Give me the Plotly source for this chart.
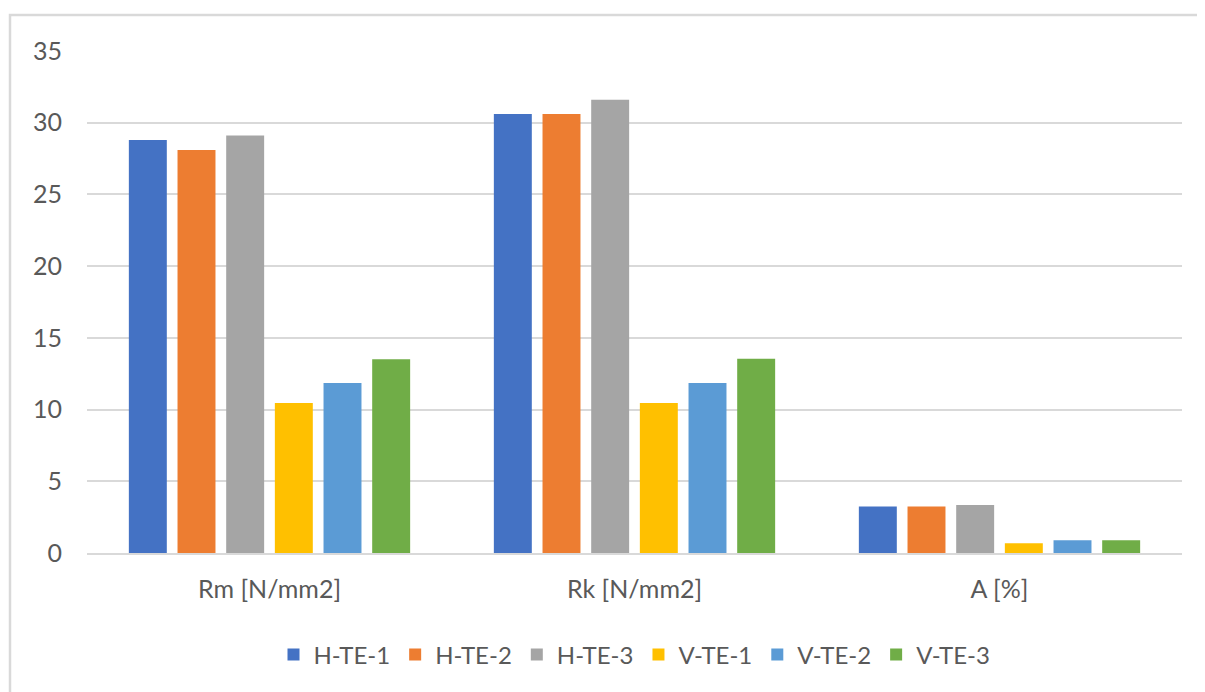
import plotly.graph_objects as go

categories = ["Rm [N/mm2]", "Rk [N/mm2]", "A [%]"]
series_names = ["H-TE-1", "H-TE-2", "H-TE-3", "V-TE-1", "V-TE-2", "V-TE-3"]
h_te_1 = [28.8, 30.6, 3.25]
h_te_2 = [28.1, 30.6, 3.25]
h_te_3 = [29.1, 31.6, 3.35]
v_te_1 = [10.45, 10.45, 0.68]
v_te_2 = [11.85, 11.85, 0.89]
v_te_3 = [13.5, 13.55, 0.89]
y_ticks = [0, 5, 10, 15, 20, 25, 30, 35]

colors = ["#4472C4", "#ED7D31", "#A5A5A5", "#FFC000", "#5B9BD5", "#70AD47"]
values = [h_te_1, h_te_2, h_te_3, v_te_1, v_te_2, v_te_3]

FONT = "Lato, Open Sans, sans-serif"
fig = go.Figure()
for name, vals, c in zip(series_names, values, colors):
    fig.add_trace(go.Bar(name=name, x=categories, y=vals, marker=dict(color=c, line=dict(width=0))))

OFF = 8  # page body margin
W, H = 1205 - OFF, 692 - OFF
ml, mt = 87 - OFF, 51 - OFF
pw, ph = 1095, 502
mr = W - ml - pw
mb = H - mt - ph


def px_y(page_y):
    return (mt + ph - (page_y - OFF)) / ph


def px_x(page_x):
    return ((page_x - OFF) - ml) / pw


fig.update_layout(
    width=W, height=H,
    margin=dict(l=ml, r=mr, t=mt, b=mb, pad=0),
    paper_bgcolor="white", plot_bgcolor="white",
    barmode="group", bargap=0.2, bargroupgap=0.22,
    font=dict(family=FONT, size=25, color="#595959"),
    showlegend=True,
    legend=dict(orientation="h", x=0.5, xanchor="center", y=px_y(655), yanchor="middle",
                font=dict(size=24, color="#595959"), traceorder="normal",
                tracegroupgap=0, itemsizing="constant"),
    xaxis=dict(showgrid=False, showline=True, linecolor="#d9d9d9", linewidth=2, ticks="",
               ticklabelstandoff=13),
    yaxis=dict(range=[0, 35], tickvals=y_ticks, showgrid=True, gridcolor="#d9d9d9", gridwidth=2,
               zeroline=False, showline=False, ticks="", ticklabelstandoff=24),
)

fig.add_shape(type="rect", xref="paper", yref="paper",
              x0=px_x(10), x1=px_x(1220),
              y0=px_y(710), y1=px_y(15),
              line=dict(color="#d9d9d9", width=2.5), fillcolor="rgba(0,0,0,0)", layer="below")

fig.write_html("out.html")
